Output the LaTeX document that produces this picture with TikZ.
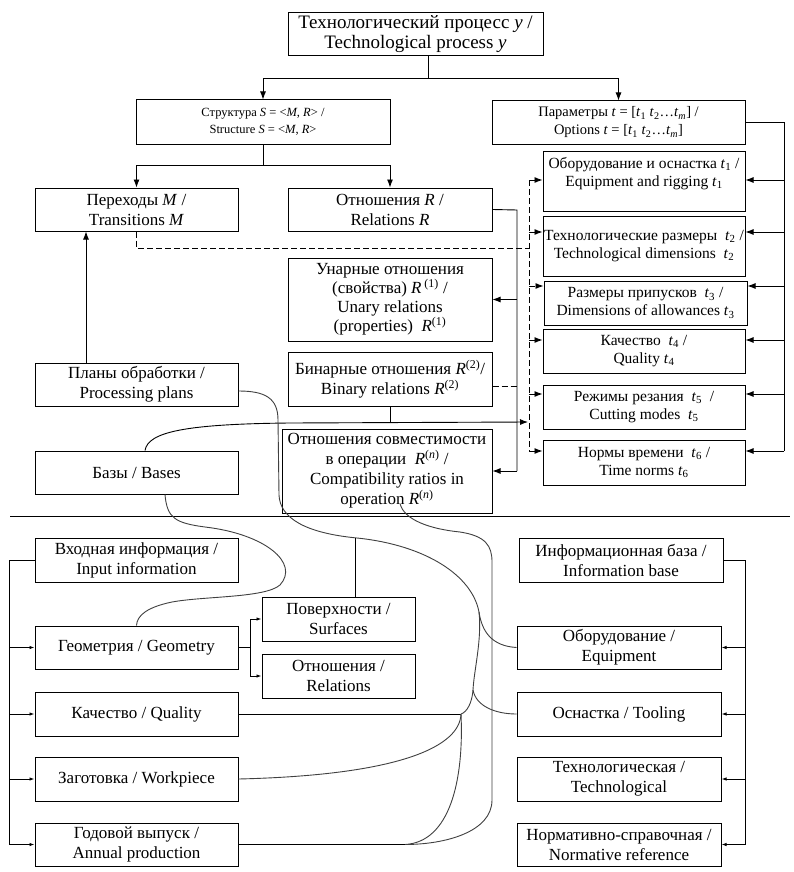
\documentclass[tikz,border=0pt]{standalone}
\usepackage{fontspec}
\setmainfont{Liberation Serif}
\usetikzlibrary{arrows.meta}
\newcommand{\ti}[1]{\textit{t}\textsubscript{#1}}
\begin{document}
\begin{tikzpicture}[x=1pt,y=-1pt,
  box/.style={draw, line width=1pt, inner sep=0pt, align=center, font=\fontsize{17}{20}\selectfont},
  tbox/.style={box, font=\fontsize{15.5}{18}\selectfont, minimum width=202pt},
  ln/.style={line width=0.9pt},
  dsh/.style={ln, dash pattern=on 6pt off 3pt},
  arr/.style={ln, -{Latex[length=8pt,width=6pt]}},
  darr/.style={dsh, -{Latex[length=8pt,width=6pt]}},
  sarr/.style={ln, -{Latex[length=5pt,width=3.5pt]}},
  crv/.style={line width=0.9pt, draw=black!75},
]
\useasboundingbox[fill=white] (0,0) rectangle (793,872);

% ---------- upper part ----------
\node[box, minimum width=255pt, minimum height=43pt, font=\fontsize{19}{20}\selectfont] (proc) at (415.5,34.5)
  {Технологический процесс \textit{y} /\\ Technological process \textit{y}};
\node[box, minimum width=254pt, minimum height=44pt, font=\fontsize{12.5}{17}\selectfont] (struct) at (263,122)
  {Структура \textit{S} = <\textit{M}, \textit{R}> /\\ Structure \textit{S} = <\textit{M}, \textit{R}>};
\node[box, minimum width=253pt, minimum height=43pt, font=\fontsize{14.5}{18}\selectfont] (param) at (618.5,122.5)
  {Параметры \textit{t} = [\ti{1} \ti{2}\dots\textit{t}\textsubscript{\textit{m}}] /\\ Options \textit{t} = [\ti{1} \ti{2}\dots\textit{t}\textsubscript{\textit{m}}]};
\node[box, minimum width=203pt, minimum height=43pt] (trans) at (136.5,209.5)
  {Переходы \textit{M} /\\ Transitions \textit{M}};
\node[box, minimum width=204pt, minimum height=43pt] (rel) at (390,209.5)
  {Отношения \textit{R} /\\ Relations \textit{R}};
\node[box, minimum width=204pt, minimum height=83pt, font=\fontsize{17}{19}\selectfont] (unary) at (390,299.5)
  {Унарные отношения\\ (свойства) \textit{R}\,\textsuperscript{(1)} /\\ Unary relations\\ (properties)~ \textit{R}\textsuperscript{(1)}};
\node[box, minimum width=204pt, minimum height=54pt] (binary) at (390,379)
  {Бинарные отношения \textit{R}\textsuperscript{(2)}/\\ Binary relations \textit{R}\textsuperscript{(2)}};
\node[box, minimum width=210pt, minimum height=84pt] (compat) at (387,471)
  {Отношения совместимости\\ в операции~ \textit{R}\textsuperscript{(\textit{n})} /\\ Compatibility ratios in\\ operation \textit{R}\textsuperscript{(\textit{n})}};
\node[box, minimum width=203pt, minimum height=43pt] (plans) at (136.5,384.5)
  {Планы обработки /\\ Processing plans};
\node[box, minimum width=203pt, minimum height=43pt] (bases) at (136.5,472.5)
  {Базы / Bases};

\node[tbox, minimum height=60pt] (t1) at (644,181)
  {Оборудование и оснастка \ti{1} /\\ Equipment and rigging \ti{1}\\ \mbox{}};
\node[tbox, minimum height=60pt] (t2) at (644,246)
  {Технологические размеры~ \ti{2} /\\ Technological dimensions~ \ti{2}};
\node[tbox, minimum width=203pt, minimum height=44pt] (t3) at (645.5,303)
  {Размеры припусков~ \ti{3} /\\ Dimensions of allowances \ti{3}};
\node[tbox, minimum height=44pt] (t4) at (644,351)
  {Качество~ \ti{4} /\\ Quality \ti{4}};
\node[tbox, minimum height=44pt] (t5) at (644,407)
  {Режимы резания~ \ti{5}~ /\\ Cutting modes~ \ti{5}};
\node[tbox, minimum height=45pt] (t6) at (644,462.5)
  {Нормы времени~ \ti{6} /\\ Time norms \ti{6}};

% connectors, upper
\coordinate (j1) at (428,78);
\draw[ln] (proc.south -| j1) -- (j1);
\draw[arr] (j1) -| (struct.north);
\draw[arr] (j1) -| (param.north);
\coordinate (j2) at (263,165);
\draw[ln] (struct.south) -- (j2);
\draw[arr] (j2) -| (trans.north);
\draw[arr] (j2) -| (rel.north);

\coordinate (rb) at (517,210);
\draw[ln] (rel.east) -- (rb) -- (rb |- compat.east);
\draw[arr] (rb |- unary.east) -- (unary.east);
\draw[arr] (rb |- compat.east) -- (compat.east);
\path ([yshift=-7pt]binary.east) coordinate (bde);
\draw[dsh] (bde) -- (rb |- bde);

\coordinate (dvt) at (529,180);
\coordinate (dvb) at (529,451);
\coordinate (dj) at (529,248);
\draw[dsh] (trans.south) |- (dj);
\draw[dsh] (dvt) -- (dvb);

\coordinate (pb) at (784,122.5);
\coordinate (pbb) at (784,451);
\draw[ln] (param.east) -- (pb) -- (pbb);

\foreach \n/\s in {t1/1,t2/14,t3/17,t4/11,t5/13,t6/11.5}{
  \path ([yshift=\s pt]\n.west) coordinate (\n-in) ([yshift=\s pt]\n.east) coordinate (\n-out);
  \draw[darr] (dvt |- \n-in) -- (\n-in);
  \draw[arr] (pb |- \n-out) -- (\n-out);
}

\draw[arr] ([xshift=-50.5pt]plans.north) -- ([xshift=-50.5pt]trans.south);

\coordinate (bl) at (528,422);
\draw[ln] (binary.south) -- (binary.south |- bl);
\draw[arr] ([xshift=8.5pt]bases.north) .. controls (148,432) and (185,424) .. (290,423) -- (bl);

% ---------- separator ----------
\coordinate (sepL) at (10,516);
\coordinate (sepR) at (790,516);
\draw[ln] (sepL) -- (sepR);

% ---------- lower part ----------
\node[box, minimum width=203pt, minimum height=44pt] (input) at (136.5,560)
  {Входная информация /\\ Input information};
\node[box, minimum width=203pt, minimum height=43pt] (geom) at (136.5,647.5)
  {Геометрия / Geometry};
\node[box, minimum width=203pt, minimum height=44pt] (qual) at (136.5,714)
  {Качество / Quality};
\node[box, minimum width=203pt, minimum height=44pt] (work) at (136.5,779)
  {Заготовка / Workpiece};
\node[box, minimum width=203pt, minimum height=43pt] (annual) at (136.5,844.5)
  {Годовой выпуск /\\ Annual production};
\node[box, minimum width=153pt, minimum height=44pt] (surf) at (338.5,619)
  {Поверхности /\\ Surfaces};
\node[box, minimum width=153pt, minimum height=44pt] (rel2) at (338.5,676)
  {Отношения /\\ Relations};
\node[box, minimum width=204pt, minimum height=44pt] (info) at (621,560)
  {Информационная база /\\ Information base};
\node[box, minimum width=204pt, minimum height=43pt] (equip) at (619,647.5)
  {Оборудование /\\ Equipment};
\node[box, minimum width=204pt, minimum height=44pt] (tool) at (619,714)
  {Оснастка / Tooling};
\node[box, minimum width=204pt, minimum height=44pt] (techn) at (619,779)
  {Технологическая /\\ Technological};
\node[box, minimum width=204pt, minimum height=43pt] (norm) at (619,844.5)
  {Нормативно-справочная /\\ Normative reference};

\coordinate (lb) at (9,560);
\draw[ln] (input.west) -- (lb) -- (lb |- annual.west);
\foreach \n in {geom,qual,work,annual}{\draw[sarr] (lb |- \n.west) -- (\n.west);}

\coordinate (gf) at (250,647.5);
\draw[ln] (geom.east) -- (gf);
\draw[sarr] (gf) |- (surf.west);
\draw[sarr] (gf) |- (rel2.west);

\coordinate (rbk) at (745,560);
\draw[ln] (info.east) -- (rbk) -- (rbk |- norm.east);
\foreach \n in {equip,tool,techn,norm}{\draw[sarr] (rbk |- \n.east) -- (\n.east);}

% curves
\draw[crv] ([xshift=28.5pt]bases.south) .. controls (167,518) and (175,523) .. (205,527)
  .. controls (265,534) and (300,563) .. (280,585)
  .. controls (265,598) and (205,596) .. (172,602)
  .. controls (148,607) and (137,615) .. (geom.north);

\coordinate (bj) at (479,612);
\coordinate (bk) at (473,690);
\coordinate (qj) at (461,714);
\coordinate (aj) at (405,844.5);
\draw[crv] ([yshift=-6.5pt]plans.east) .. controls (265,391) and (278,398) .. (278,420) -- (279,495)
  .. controls (280,518) and (305,533) .. (357,538)
  .. controls (425,545) and (472,575) .. (bj)
  .. controls (482,632) and (492,646) .. (equip.west);
\draw[crv] (bj) .. controls (482,640) and (474,670) .. (bk);
\draw[crv] (bk) .. controls (476,706) and (495,714) .. (tool.west);
\draw[crv] (bk) .. controls (472,703) and (467,712) .. (qj);
\draw[ln] (qual.east) -- (qj);
\draw[ln] ([xshift=16.5pt]surf.north) -- ++(0,-59);

\draw[crv] ([xshift=13pt,yshift=10pt]compat.south) .. controls (404,520) and (430,529) .. (460,532)
  .. controls (486,536) and (492,546) .. (492,562) -- (492,800)
  .. controls (492,832) and (445,844.5) .. (aj);
\draw[ln] (annual.east) -- (aj);
\draw[crv] (qj) .. controls (460,745) and (405,775) .. (work.east);
\draw[crv] (qj) .. controls (464,780) and (450,842) .. (aj);
\end{tikzpicture}
\end{document}
